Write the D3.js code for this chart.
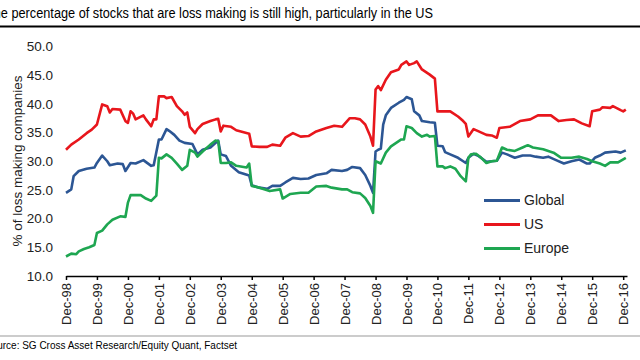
<!DOCTYPE html>
<html><head><meta charset="utf-8">
<script src="https://cdn.jsdelivr.net/npm/d3@7/dist/d3.min.js"></script>
<style>body{margin:0;background:#fff}svg{display:block;font-family:"Liberation Sans",Arial,sans-serif}</style>
</head><body><svg id="c" width="640" height="360"></svg>
<script>
const title = "The percentage of stocks that are loss making is still high, particularly in the US";
const source = "Source: SG Cross Asset Research/Equity Quant, Factset";
const yLabel = "% of loss making companies";
const yTicks = [10, 15, 20, 25, 30, 35, 40, 45, 50];
const xTickYears = [1998,1999,2000,2001,2002,2003,2004,2005,2006,2007,2008,2009,2010,2011,2012,2013,2014,2015,2016];
const seriesNames = ["Global", "US", "Europe"];

const usDates = ["1998-12","1999-02","1999-05","1999-08","1999-10","1999-12","2000-02","2000-04","2000-05","2000-06","2000-09","2000-11","2000-12","2001-01","2001-02","2001-03","2001-06","2001-07","2001-09","2001-10","2001-11","2001-12","2002-02","2002-03","2002-05","2002-07","2002-09","2002-10","2002-11","2002-12","2003-02","2003-03","2003-05","2003-08","2003-10","2003-11","2003-12","2004-01","2004-04","2004-06","2004-11","2004-12","2005-03","2005-06","2005-08","2005-11","2006-01","2006-04","2006-07","2006-10","2007-01","2007-05","2007-08","2007-11","2008-02","2008-04","2008-06","2008-08","2008-10","2008-11","2008-12","2009-01","2009-02","2009-04","2009-06","2009-09","2009-10","2009-12","2010-01","2010-03","2010-04","2010-06","2010-09","2010-11","2010-12","2011-02","2011-05","2011-08","2011-10","2011-11","2011-12","2012-02","2012-04","2012-07","2012-09","2012-11","2012-12","2013-04","2013-08","2013-12","2014-03","2014-08","2014-11","2015-02","2015-05","2015-08","2015-11","2015-12","2016-03","2016-04","2016-07","2016-08","2016-11","2016-12","2017-01"];
const usValues = [32.0,32.9,33.8,34.9,35.5,36.4,39.9,39.6,38.5,39.1,39.0,37.0,36.7,38.7,38.3,37.3,38.0,37.3,36.1,37.3,37.3,41.3,41.3,41.0,41.2,39.6,38.7,38.1,38.5,36.0,34.9,35.6,36.5,37.0,37.3,37.4,35.2,36.2,36.0,35.4,34.8,32.6,32.5,32.5,32.9,32.7,34.1,34.9,34.3,34.4,35.2,35.8,36.2,36.0,37.5,37.5,37.3,36.4,34.3,32.7,42.5,43.1,42.4,44.2,45.5,46.0,46.8,47.4,46.8,47.1,47.4,46.0,45.1,44.4,38.7,38.7,38.7,37.8,37.0,36.5,34.3,35.6,35.2,34.6,34.5,34.1,35.8,36.0,37.0,37.3,38.0,38.0,37.0,37.2,37.3,36.6,36.1,38.7,39.0,39.4,39.3,39.6,38.9,38.7,39.0];

const globalDates = ["1998-12","1999-02","1999-03","1999-05","1999-08","1999-11","1999-12","2000-02","2000-04","2000-05","2000-08","2000-10","2000-11","2001-01","2001-03","2001-06","2001-09","2001-10","2001-12","2002-01","2002-03","2002-04","2002-06","2002-08","2002-10","2003-01","2003-03","2003-05","2003-08","2003-11","2003-12","2004-02","2004-04","2004-07","2004-11","2004-12","2005-03","2005-06","2005-08","2005-11","2006-01","2006-04","2006-07","2006-10","2007-01","2007-05","2007-07","2007-11","2008-01","2008-03","2008-06","2008-08","2008-10","2008-11","2008-12","2009-01","2009-02","2009-03","2009-04","2009-06","2009-09","2009-11","2009-12","2010-02","2010-03","2010-05","2010-06","2010-09","2010-11","2010-12","2011-02","2011-03","2011-05","2011-08","2011-10","2011-11","2011-12","2012-02","2012-04","2012-07","2012-09","2012-11","2013-01","2013-03","2013-06","2013-09","2013-12","2014-02","2014-05","2014-07","2014-10","2015-01","2015-04","2015-07","2015-10","2015-11","2016-01","2016-03","2016-05","2016-09","2016-11","2017-01"];
const globalValues = [24.5,25.1,27.4,28.3,28.7,28.9,29.7,31.0,30.0,29.3,29.6,29.5,28.3,29.7,29.6,30.2,29.2,29.3,33.8,33.8,35.6,35.3,34.6,33.6,33.2,33.0,31.2,32.0,32.4,33.6,31.2,30.9,29.2,28.1,27.5,25.8,25.4,25.2,25.7,25.7,26.3,27.1,26.9,27.0,27.6,27.9,28.5,28.3,28.5,29.0,28.8,27.6,25.7,24.5,31.7,32.0,32.2,36.4,38.0,39.3,40.2,40.7,41.2,40.8,38.7,38.0,37.0,36.8,36.7,32.7,32.6,31.6,31.2,30.6,30.0,29.7,30.6,31.3,30.9,29.9,30.0,30.1,31.5,31.2,30.6,31.0,31.0,30.8,30.6,30.8,30.2,29.6,30.0,30.3,29.6,29.6,30.6,31.0,31.5,31.7,31.5,31.9];

const europeDates = ["1998-12","1999-02","1999-04","1999-05","1999-07","1999-09","1999-11","1999-12","2000-02","2000-04","2000-06","2000-09","2000-11","2000-12","2001-01","2001-05","2001-07","2001-09","2001-11","2001-12","2002-01","2002-03","2002-05","2002-07","2002-09","2002-11","2002-12","2003-02","2003-03","2003-05","2003-08","2003-10","2003-11","2003-12","2004-02","2004-04","2004-06","2004-10","2004-11","2004-12","2005-03","2005-07","2005-11","2005-12","2006-03","2006-07","2006-10","2007-01","2007-05","2007-07","2007-11","2008-01","2008-03","2008-06","2008-08","2008-10","2008-11","2008-12","2009-02","2009-04","2009-06","2009-08","2009-10","2009-11","2009-12","2010-02","2010-04","2010-06","2010-08","2010-09","2010-11","2010-12","2011-02","2011-03","2011-05","2011-07","2011-09","2011-11","2011-12","2012-01","2012-03","2012-05","2012-07","2012-09","2012-11","2013-01","2013-03","2013-06","2013-09","2013-11","2014-01","2014-05","2014-09","2014-12","2015-04","2015-07","2015-10","2015-12","2016-03","2016-05","2016-07","2016-10","2017-01"];
const europeValues = [13.4,13.9,13.8,14.3,14.7,15.0,15.4,17.5,17.9,19.0,19.8,20.4,20.3,22.8,24.1,24.1,23.5,23.1,24.0,30.6,30.5,31.2,30.6,29.6,28.5,29.2,32.0,31.5,30.8,31.7,32.9,33.6,33.5,29.7,29.7,29.8,29.2,28.9,29.6,25.7,25.4,24.8,25.1,23.5,24.3,24.5,24.5,25.6,25.7,25.4,25.1,25.1,24.6,24.4,23.6,22.2,21.0,30.0,29.6,31.5,32.6,33.2,33.8,33.8,36.1,35.8,34.9,34.3,34.6,34.3,34.4,29.1,29.1,28.8,29.1,28.7,27.4,26.5,30.6,31.2,31.3,30.6,29.7,30.0,30.1,32.4,32.0,31.8,32.4,32.8,32.4,32.1,31.5,30.6,30.6,30.8,30.4,30.0,29.6,29.2,29.8,29.8,30.6];

const colors = {Global: "#2C5694", US: "#E8161C", Europe: "#1EA651"};
const parse = d3.timeParse("%Y-%m");
const series = [
  {name: "Global", dates: globalDates, values: globalValues},
  {name: "US", dates: usDates, values: usValues},
  {name: "Europe", dates: europeDates, values: europeValues}
];

const svg = d3.select("#c");
// title (left part cut off by the frame, as in the reference)
svg.append("text").attr("x", -14).attr("y", 17.5).attr("font-size", 15.5).attr("fill", "#000")
  .attr("textLength", 447).attr("lengthAdjust", "spacingAndGlyphs").text(title);
svg.append("line").attr("x1", 0).attr("x2", 640).attr("y1", 26.5).attr("y2", 26.5).attr("stroke", "#000").attr("stroke-width", 2);

const x = d3.scaleTime().domain([new Date(1998, 11, 1), new Date(2017, 0, 15)]).range([66, 627]);
const y = d3.scaleLinear().domain([10, 50]).range([276, 46.5]);

// y tick labels (no axis line)
svg.append("g").selectAll("text").data(yTicks).join("text")
  .attr("x", 53).attr("y", d => y(d)).attr("dy", "0.35em").attr("text-anchor", "end")
  .attr("font-size", 13.5).attr("fill", "#222").text(d => d.toFixed(1));

svg.append("text").attr("transform", `translate(22,${(46+276)/2}) rotate(-90)`)
  .attr("text-anchor", "middle").attr("font-size", 13.5).attr("fill", "#222").text(yLabel);

// x axis
const xTicks = xTickYears.map(yr => new Date(yr, 11, 1));
const xAxis = d3.axisBottom(x).tickValues(xTicks).tickSize(4).tickSizeOuter(0).tickFormat(d3.timeFormat("%b-%y"));
const gx = svg.append("g").attr("transform", "translate(0,276)").call(xAxis);
gx.select(".domain").attr("stroke", "#000").attr("stroke-width", 1.5);
gx.selectAll(".tick line").attr("stroke", "#000").attr("stroke-width", 1.5);
gx.selectAll(".tick text").attr("font-size", 13).attr("fill", "#222")
  .attr("font-family", '"Liberation Sans",Arial,sans-serif')
  .attr("transform", "rotate(-90)").attr("text-anchor", "end")
  .attr("x", -7).attr("y", 0).attr("dy", "0.35em");

// lines
const line = d3.line().x(d => x(d[0])).y(d => y(d[1]));
series.forEach(s => {
  const pts = s.dates.map((d, i) => [parse(d), s.values[i]]);
  svg.append("path").datum(pts).attr("d", line).attr("fill", "none")
    .attr("stroke", colors[s.name]).attr("stroke-width", 2.6).attr("stroke-linejoin", "round");
});

// legend
const lg = svg.append("g");
seriesNames.forEach((n, i) => {
  const ly = 200.5 + i * 24;
  lg.append("line").attr("x1", 484).attr("x2", 520).attr("y1", ly).attr("y2", ly)
    .attr("stroke", colors[n]).attr("stroke-width", 3);
  lg.append("text").attr("x", 524).attr("y", ly).attr("dy", "0.35em").attr("font-size", 14).attr("fill", "#222").text(n);
});

// source
svg.append("line").attr("x1", 0).attr("x2", 640).attr("y1", 336).attr("y2", 336).attr("stroke", "#999").attr("stroke-width", 1);
svg.append("text").attr("x", -15).attr("y", 349).attr("font-size", 10.5).attr("fill", "#000")
  .attr("textLength", 252).attr("lengthAdjust", "spacingAndGlyphs").text(source);
</script></body></html>
